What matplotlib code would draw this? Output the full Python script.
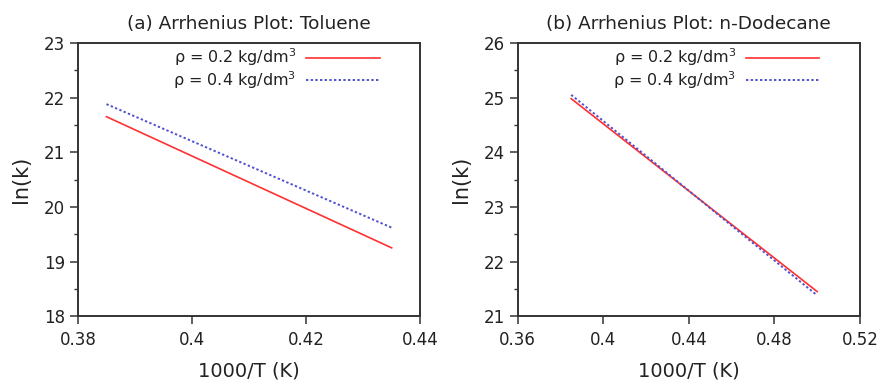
import matplotlib
matplotlib.use("Agg")
import matplotlib.pyplot as plt
from matplotlib.ticker import MultipleLocator

# data (straight lines, endpoints)
x_tol = [0.385, 0.435]
tol_02 = [21.65, 19.25]
tol_04 = [21.88, 19.62]

x_dod = [0.385, 0.5]
dod_02 = [24.98, 21.45]
dod_04 = [25.05, 21.38]

labels = [r"ρ = 0.2 kg/dm$^3$", r"ρ = 0.4 kg/dm$^3$"]
titles = ["(a) Arrhenius Plot: Toluene", "(b) Arrhenius Plot: n-Dodecane"]

fig = plt.figure(figsize=(8.82, 3.80), dpi=100)
ax1 = fig.add_axes([0.0884, 0.168, 0.388, 0.719])
ax2 = fig.add_axes([0.587, 0.168, 0.388, 0.719])

def setup(ax, x, y1, y2, title, xlim, ylim, xstep):
    ax.plot(x, y1, color="#ff3030", lw=1.2, label=labels[0])
    ax.plot(x, y2, color="#5050d0", lw=1.4, ls=(0, (1.2, 1.2)), label=labels[1])
    ax.set_xlim(*xlim)
    ax.set_ylim(*ylim)
    ax.xaxis.set_major_locator(MultipleLocator(xstep))
    ax.yaxis.set_major_locator(MultipleLocator(1))
    ax.yaxis.set_minor_locator(MultipleLocator(0.5))
    ax.xaxis.set_major_formatter(plt.FuncFormatter(lambda v, p: f"{v:g}"))
    ax.tick_params(direction="out", labelsize=12, length=5.5, width=1.1,
                   color="#333333", labelcolor="#222222", pad=4)
    ax.tick_params(axis="x", pad=5)
    ax.tick_params(which="minor", direction="out", length=3, width=1, color="#333333")
    for s in ax.spines.values():
        s.set_linewidth(1.4)
        s.set_color("#333333")
    ax.set_title(title, fontsize=13.3, pad=10, color="#222222")
    ax.set_xlabel("1000/T (K)", fontsize=14, labelpad=9, color="#222222")
    ax.set_ylabel("ln(k)", fontsize=15, labelpad=9, color="#222222")
    leg = ax.legend(loc="upper right", bbox_to_anchor=(0.9, 1.01), frameon=False,
                    markerfirst=False, fontsize=11.5, handlelength=4.6,
                    handletextpad=0.6, borderaxespad=0.0, labelspacing=0.05)
    for t in leg.get_texts():
        t.set_color("#222222")

setup(ax1, x_tol, tol_02, tol_04, titles[0], (0.38, 0.44), (18, 23), 0.02)
setup(ax2, x_dod, dod_02, dod_04, titles[1], (0.36, 0.52), (21, 26), 0.04)

fig.savefig("out.png", dpi=100)
